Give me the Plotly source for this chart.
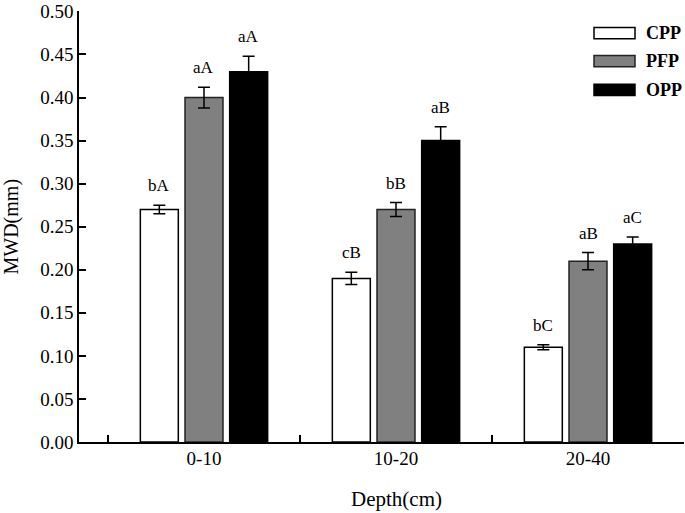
import plotly.graph_objects as go

depths = ["0-10", "10-20", "20-40"]
series = ["CPP", "PFP", "OPP"]
values = {
    "CPP": [0.27, 0.19, 0.11],
    "PFP": [0.40, 0.27, 0.21],
    "OPP": [0.43, 0.35, 0.23],
}
errors = {
    "CPP": [0.005, 0.007, 0.003],
    "PFP": [0.012, 0.008, 0.010],
    "OPP": [0.018, 0.016, 0.008],
}
letters = {
    "CPP": ["bA", "cB", "bC"],
    "PFP": ["aA", "bB", "aB"],
    "OPP": ["aA", "aB", "aC"],
}
ytick_vals = [0.00, 0.05, 0.10, 0.15, 0.20, 0.25, 0.30, 0.35, 0.40, 0.45, 0.50]
ytick_text = ["0.00", "0.05", "0.10", "0.15", "0.20", "0.25", "0.30", "0.35", "0.40", "0.45", "0.50"]

fills = {"CPP": "#ffffff", "PFP": "#808080", "OPP": "#000000"}
outlines = {"CPP": "#000000", "PFP": "#222222", "OPP": "#000000"}

FONT = "Liberation Serif"
W, H = 685, 513
L, R, T, B = 79, 1, 6, 71
pw, ph = W - L - R, H - T - B

fig = go.Figure()
for s in series:
    fig.add_trace(go.Bar(
        x=depths, y=values[s], name=s,
        marker=dict(color=fills[s], line=dict(color=outlines[s], width=1.5)),
        error_y=dict(type="data", array=errors[s], color="black", thickness=1.5, width=6),
        showlegend=False,
    ))

slot = 0.233
annotations = []
for j, s in enumerate(series):
    off = (j - 1) * slot
    for i, d in enumerate(depths):
        annotations.append(dict(
            x=i + off, y=values[s][i] + errors[s][i], xref="x", yref="y",
            text=letters[s][i], showarrow=False, yanchor="bottom", yshift=8,
            font=dict(family=FONT, size=17, color="black"),
        ))

def px_x(px):
    return (px - L) / pw
def px_y(py):
    return (H - B - py) / ph

# x-axis title centred under middle category
annotations.append(dict(
    x=1, y=px_y(500), xref="x", yref="paper",
    text="Depth(cm)", showarrow=False, yanchor="middle",
    font=dict(family=FONT, size=21, color="black"),
))
# y-axis title
annotations.append(dict(
    x=px_x(11), y=0.5, xref="paper", yref="paper",
    text="MWD(mm)", showarrow=False, textangle=-90, xanchor="center", yanchor="middle",
    font=dict(family=FONT, size=20, color="black"),
))

# legend drawn as boxes + labels
shapes = []
leg_y = [28.3, 56.7, 85.8]
for s, cy in zip(series, leg_y):
    shapes.append(dict(
        type="rect", xref="paper", yref="paper",
        x0=px_x(594), x1=px_x(635), y0=px_y(cy + 5.7), y1=px_y(cy - 5.7),
        fillcolor=fills[s], line=dict(color=outlines[s], width=1.5),
    ))
    annotations.append(dict(
        x=px_x(644), y=px_y(cy), xref="paper", yref="paper",
        text="<b>" + s + "</b>", showarrow=False, xanchor="left", yanchor="middle",
        font=dict(family=FONT, size=18, color="black"),
    ))

fig.update_layout(
    width=W, height=H,
    margin=dict(l=L, r=R, t=T, b=B, pad=0),
    paper_bgcolor="white", plot_bgcolor="white",
    barmode="group", bargap=0.302, bargroupgap=0.15,
    font=dict(family=FONT, size=19, color="black"),
    annotations=annotations, shapes=shapes,
    xaxis=dict(
        type="category", range=[-0.651, 2.5],
        tickson="boundaries", ticks="inside", ticklen=7, tickwidth=1.5, tickcolor="black",
        showline=True, linecolor="black", linewidth=1.5, showgrid=False, zeroline=False,
        tickfont=dict(family=FONT, size=19, color="black"),
        ticklabelstandoff=-2,
    ),
    yaxis=dict(
        range=[0, 0.5005], tickmode="array", tickvals=ytick_vals, ticktext=ytick_text,
        ticks="inside", ticklen=7, tickwidth=1.5, tickcolor="black",
        showline=True, linecolor="black", linewidth=1.5, showgrid=False, zeroline=False,
        tickfont=dict(family=FONT, size=19, color="black"),
        ticklabeloverflow="allow",
    ),
)

fig.write_html(
    "out.html",
    config={"displayModeBar": False},
    post_script="document.body.style.margin='0';document.body.style.padding='0';",
)
